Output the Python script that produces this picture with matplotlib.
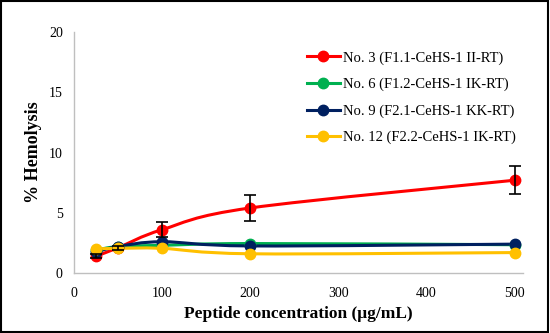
import matplotlib.pyplot as plt
from matplotlib.path import Path
from matplotlib.patches import PathPatch, Rectangle

plt.rcParams['font.family'] = ['Liberation Serif', 'DejaVu Serif']

conc = [25, 50, 100, 200, 500]
labels = [
    "No. 3 (F1.1-CeHS-1 II-RT)",
    "No. 6 (F1.2-CeHS-1 IK-RT)",
    "No. 9 (F2.1-CeHS-1 KK-RT)",
    "No. 12 (F2.2-CeHS-1 IK-RT)",
]
colors = ["#FF0000", "#00B050", "#002060", "#FFC000"]
no3 = [1.4, 2.1, 3.6, 5.4, 7.7]
no3_err = [0.15, 0.15, 0.6, 1.05, 1.15]
no6 = [1.9, 2.2, 2.3, 2.45, 2.35]
no9 = [1.75, 2.2, 2.6, 2.25, 2.4]
no12 = [2.0, 2.05, 2.05, 1.6, 1.7]
series = [no3, no6, no9, no12]


def smooth_path(xs, ys, t=1 / 6):
    # Catmull-Rom style bezier like Excel's smoothed line
    verts = [(xs[0], ys[0])]
    codes = [Path.MOVETO]
    n = len(xs)
    for i in range(n - 1):
        x0, y0 = (xs[i - 1], ys[i - 1]) if i > 0 else (xs[i], ys[i])
        x1, y1 = xs[i], ys[i]
        x2, y2 = xs[i + 1], ys[i + 1]
        x3, y3 = (xs[i + 2], ys[i + 2]) if i + 2 < n else (x2, y2)
        c1 = (x1 + (x2 - x0) * t, y1 + (y2 - y0) * t)
        c2 = (x2 - (x3 - x1) * t, y2 - (y3 - y1) * t)
        verts += [c1, c2, (x2, y2)]
        codes += [Path.CURVE4] * 3
    return Path(verts, codes)


fig = plt.figure(figsize=(5.5, 3.33), dpi=100)
ax = fig.add_axes([0.1345, 0.18, 0.817, 0.724])

for vals, col, lab in zip(series, colors, labels):
    ax.add_patch(PathPatch(smooth_path(conc, vals), fill=False, edgecolor=col,
                           lw=2.2, zorder=2))
    ax.plot(conc, vals, 'o', color=col, ms=7.5, zorder=3)
    ax.plot([], [], '-o', color=col, ms=7.5, lw=2.2, label=lab)

ax.errorbar(conc, no3, yerr=no3_err, fmt='none', ecolor='black', elinewidth=1.2,
            capsize=4, capthick=1.2, zorder=4)

ax.set_xlim(0, 510)
ax.set_ylim(0, 20)
ax.set_xticks([0, 100, 200, 300, 400, 500])
ax.set_yticks([0, 5, 10, 15, 20])
for s in ['top', 'right']:
    ax.spines[s].set_visible(False)
for s in ['left', 'bottom']:
    ax.spines[s].set_color('#bfbfbf')
    ax.spines[s].set_linewidth(1.0)
ax.tick_params(length=0, labelsize=10, pad=8)
ax.tick_params(axis='x', pad=10)
ax.set_xlabel("Peptide concentration (μg/mL)", fontsize=12.5, fontweight='bold', labelpad=4)
ax.set_ylabel("% Hemolysis", fontsize=13, fontweight='bold', labelpad=5)

ax.legend(loc='upper right', bbox_to_anchor=(1.012, 0.975), frameon=False, fontsize=10.5,
          handlelength=2.25, labelspacing=0.9, handletextpad=0.2)

fig.patches.append(Rectangle((0.002, 0.003), 0.995, 0.993, transform=fig.transFigure,
                             fill=False, edgecolor='black', lw=1.5))

fig.savefig("out.png", dpi=100)
